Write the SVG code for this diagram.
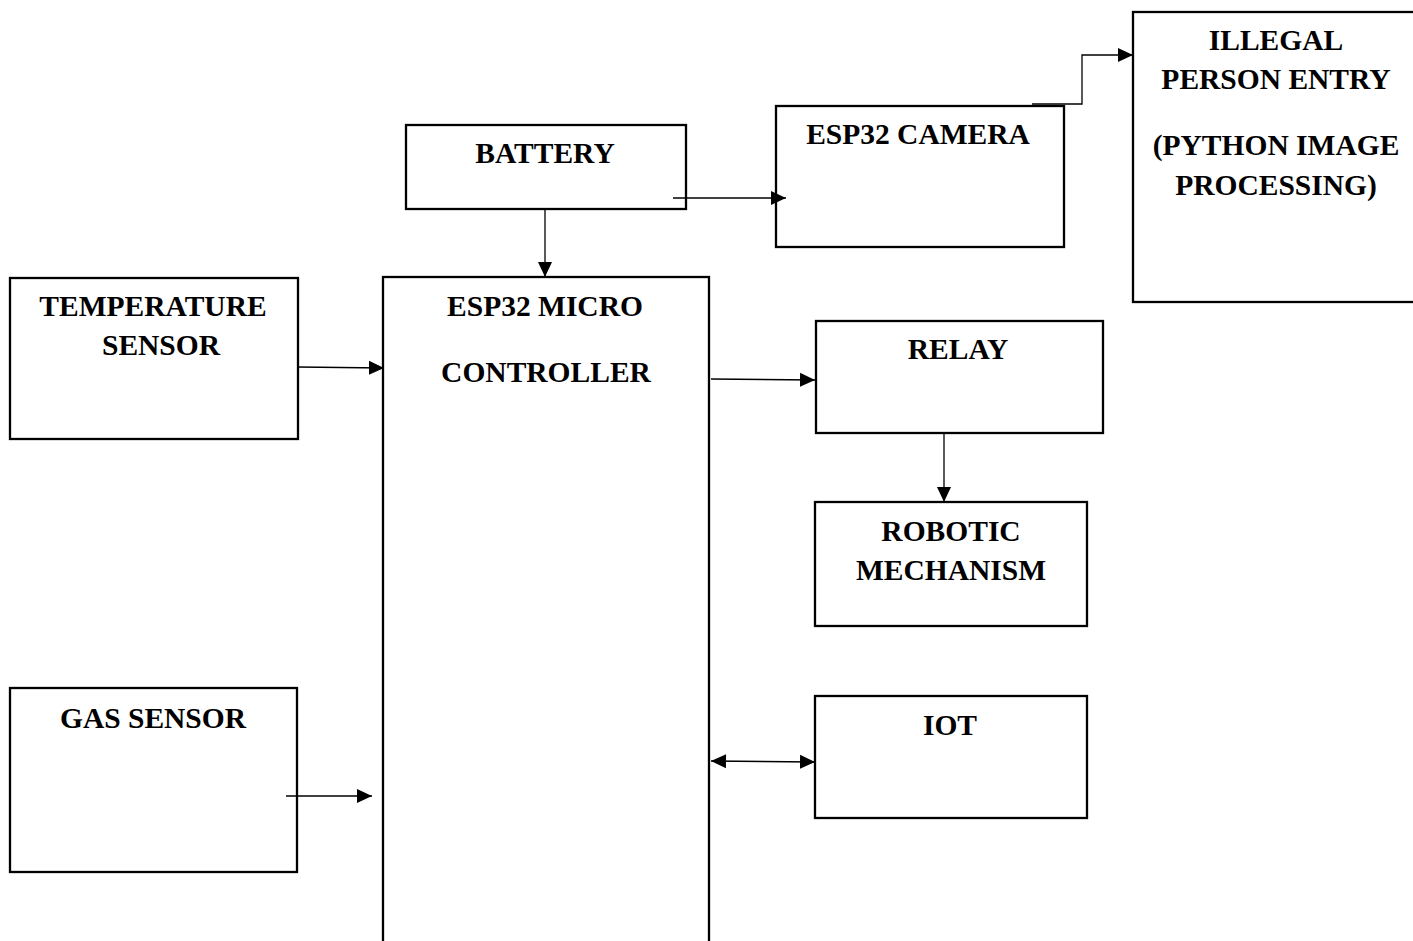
<svg xmlns="http://www.w3.org/2000/svg" width="1413" height="941" viewBox="0 0 1413 941">
<style>
.box{fill:#fff;stroke:#000;stroke-width:2.3}
.lbl{font-family:"Liberation Serif","Times New Roman",serif;font-weight:bold;font-size:29.5px;fill:#000;text-anchor:middle}
.con{fill:none;stroke:#000;stroke-width:1.3}
</style>
<defs>
<marker id="arr" markerUnits="userSpaceOnUse" markerWidth="16" markerHeight="16" refX="15" refY="8" orient="auto">
<path d="M0,1 L15,8 L0,15 Z" fill="#000"/>
</marker>
<marker id="arrs" markerUnits="userSpaceOnUse" markerWidth="16" markerHeight="16" refX="0" refY="8" orient="auto">
<path d="M15,1 L0,8 L15,15 Z" fill="#000"/>
</marker>
</defs>
<rect width="1413" height="941" fill="#fff"/>
<g id="battery"><rect class="box" x="406" y="125" width="280" height="84"/><text class="lbl" x="545" y="163">BATTERY</text></g>
<g id="camera"><rect class="box" x="776" y="106" width="288" height="141"/><text class="lbl" x="918" y="144">ESP32 CAMERA</text></g>
<g id="illegal"><rect class="box" x="1133" y="12" width="290" height="290"/>
<text class="lbl" x="1276" y="50">ILLEGAL</text><text class="lbl" x="1276" y="89">PERSON ENTRY</text>
<text class="lbl" x="1276" y="155">(PYTHON IMAGE</text><text class="lbl" x="1276" y="195">PROCESSING)</text></g>
<g id="temp"><rect class="box" x="10" y="278" width="288" height="161"/><text class="lbl" x="153" y="316">TEMPERATURE</text><text class="lbl" x="161" y="355">SENSOR</text></g>
<g id="micro"><rect class="box" x="383" y="277" width="326" height="670"/><text class="lbl" x="545" y="316">ESP32 MICRO</text><text class="lbl" x="546" y="382">CONTROLLER</text></g>
<g id="relay"><rect class="box" x="816" y="321" width="287" height="112"/><text class="lbl" x="958" y="359">RELAY</text></g>
<g id="robotic"><rect class="box" x="815" y="502" width="272" height="124"/><text class="lbl" x="951" y="541">ROBOTIC</text><text class="lbl" x="951" y="580">MECHANISM</text></g>
<g id="iot"><rect class="box" x="815" y="696" width="272" height="122"/><text class="lbl" x="950" y="735">IOT</text></g>
<g id="gas"><rect class="box" x="10" y="688" width="287" height="184"/><text class="lbl" x="153" y="728">GAS SENSOR</text></g>
<g id="connectors">
<path class="con" d="M545,209 V277" marker-end="url(#arr)"/>
<path class="con" d="M673,198 H786" marker-end="url(#arr)"/>
<path class="con" d="M1032,104 H1082 V55 H1133" marker-end="url(#arr)"/>
<path class="con" d="M298,367 L384,368" marker-end="url(#arr)"/>
<path class="con" d="M711,379 L815,380" marker-end="url(#arr)"/>
<path class="con" d="M944,433 V502" marker-end="url(#arr)"/>
<path class="con" d="M711,761 L815,762" marker-start="url(#arrs)" marker-end="url(#arr)"/>
<path class="con" d="M286,796 H372" marker-end="url(#arr)"/>
</g>
</svg>
